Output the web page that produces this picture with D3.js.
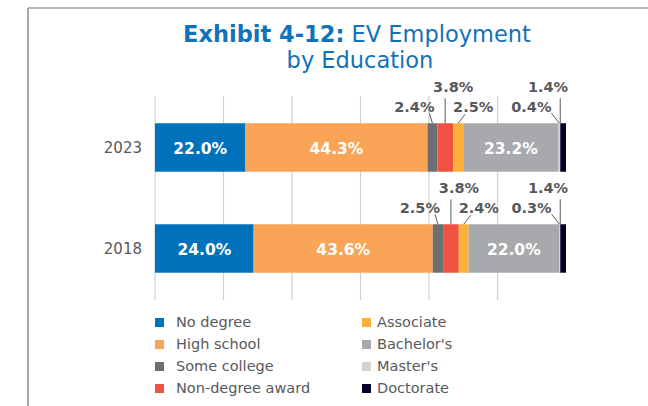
<html>
<head>
<title>EV Employment by Education</title>
<script type="text/javascript" src="https://cdn.jsdelivr.net/npm/d3@7"></script>
<style type="text/css">
body { margin:0; background:white; }
text { font-family: "DejaVu Sans", sans-serif; }
</style>
</head>
<body>
<script>

  var years = ["2023", "2018"];
  var categories = ["No degree", "High school", "Some college", "Non-degree award",
                    "Associate", "Bachelor's", "Master's", "Doctorate"];
  var values2023 = [22.0, 44.3, 2.4, 3.8, 2.5, 23.2, 0.4, 1.4];
  var values2018 = [24.0, 43.6, 2.5, 3.8, 2.4, 22.0, 0.3, 1.4];
  var colors = ["#0072bc", "#f9a457", "#6d6e71", "#ef5241", "#fbb13c", "#a7a9ac", "#d1d3d4", "#03002e"];
  var gridTicks = [0, 100/6, 200/6, 300/6, 400/6, 500/6];

  var valuesByYear = {"2023": values2023, "2018": values2018};
  var inside = [0, 1, 5];   // labelled in the bar
  // callout layout for the small segments (row 1 = upper, row 2 = lower)
  var callouts = {
    2: {row: 2, anchor: "end",    dx: 2,  lead: "diagL"},
    3: {row: 1, anchor: "middle", dx: 8,  lead: "vert"},
    4: {row: 2, anchor: "start",  dx: -5, lead: "diagR"},
    6: {row: 2, anchor: "end",    dx: -8, lead: "diagM"},
    7: {row: 1, anchor: "end",    dx: 5,  lead: "vertLeft"}
  };

  var grey = "#58595b";

  var svg = d3.select("body").append("svg").attr("width", 648).attr("height", 406);

  // frame
  svg.append("line").attr("x1", 28).attr("x2", 648).attr("y1", 8).attr("y2", 8)
    .attr("stroke", "#a0a0a0").attr("stroke-width", 1.5);
  svg.append("line").attr("x1", 28).attr("x2", 28).attr("y1", 8).attr("y2", 406)
    .attr("stroke", "#8a8a8a").attr("stroke-width", 1.5);

  // title
  var t1 = svg.append("text").attr("x", 357).attr("y", 42).attr("text-anchor", "middle")
    .attr("fill", "#1172b9").attr("font-size", 22.5);
  t1.append("tspan").attr("font-weight", "bold").text("Exhibit 4-12:");
  t1.append("tspan").text(" EV Employment");
  svg.append("text").attr("x", 360).attr("y", 68).attr("text-anchor", "middle")
    .attr("fill", "#1172b9").attr("font-size", 22.5).text("by Education");

  var x = d3.scaleLinear().domain([0, 100]).range([155, 566]);
  var y = d3.scaleBand().domain(years).range([97, 299]).paddingInner(0.52).paddingOuter(0.26);

  // gridlines
  svg.selectAll(".grid").data(gridTicks).enter().append("line").attr("class", "grid")
    .attr("x1", function(d){ return x(d); }).attr("x2", function(d){ return x(d); })
    .attr("y1", 96).attr("y2", 300).attr("stroke", "#cfcfcf").attr("stroke-width", 1.2);

  // year labels
  svg.selectAll(".year").data(years).enter().append("text").attr("class", "year")
    .attr("x", 142).attr("y", function(d){ return y(d) + y.bandwidth()/2 + 5; })
    .attr("text-anchor", "end").attr("font-size", 15).attr("fill", grey)
    .text(function(d){ return d; });

  years.forEach(function(yr){
    var vals = valuesByYear[yr];
    var segs = [], acc = 0;
    vals.forEach(function(v, i){
      segs.push({i: i, v: v, x0: acc, x1: acc + v});
      acc += v;
    });
    var top = y(yr);
    var g = svg.append("g");

    g.selectAll("rect").data(segs).enter().append("rect")
      .attr("x", function(d){ return x(d.x0); })
      .attr("width", function(d){ return x(d.x1) - x(d.x0); })
      .attr("y", top).attr("height", y.bandwidth())
      .attr("fill", function(d){ return colors[d.i]; });

    g.selectAll(".inlab").data(segs.filter(function(d){ return inside.indexOf(d.i) >= 0; }))
      .enter().append("text").attr("class", "inlab")
      .attr("x", function(d){ return (x(d.x0) + x(d.x1))/2; })
      .attr("y", top + y.bandwidth()/2 + 6)
      .attr("text-anchor", "middle").attr("font-size", 15.5).attr("font-weight", "bold")
      .attr("fill", "white").text(function(d){ return d.v.toFixed(1) + "%"; });

    var outs = segs.filter(function(d){ return callouts[d.i]; });
    outs.forEach(function(d){
      var c = callouts[d.i];
      var cx = (x(d.x0) + x(d.x1))/2;
      var base = c.row == 1 ? top - 31 : top - 11;
      g.append("text").attr("x", cx + c.dx).attr("y", base)
        .attr("text-anchor", c.anchor).attr("font-size", 14.5).attr("font-weight", "bold")
        .attr("fill", grey).text(d.v.toFixed(1) + "%");
      var l;
      if (c.lead == "vert") l = [cx, base + 6, cx, top];
      else if (c.lead == "vertLeft") l = [x(d.x0), base + 6, x(d.x0), top];
      else if (c.lead == "diagL") l = [cx - 3, base + 1, cx, top];
      else if (c.lead == "diagR") l = [cx + 7, base + 2, cx, top];
      else l = [cx - 8, base + 1, cx, top];
      g.append("line").attr("x1", l[0]).attr("y1", l[1]).attr("x2", l[2]).attr("y2", l[3])
        .attr("stroke", grey).attr("stroke-width", 1);
    });
  });

  // legend
  var leg = svg.selectAll(".leg").data(categories).enter().append("g").attr("class", "leg")
    .attr("transform", function(d, i){
      var col = Math.floor(i/4), row = i % 4;
      return "translate(" + (col == 0 ? 155 : 362) + "," + (327 + row*22) + ")";
    });
  leg.append("rect").attr("x", 0).attr("y", -9).attr("width", 9).attr("height", 9)
    .attr("fill", function(d, i){ return colors[i]; });
  leg.append("text").attr("x", function(d, i){ return i < 4 ? 21 : 15; }).attr("y", 0)
    .attr("font-size", 14.5).attr("fill", grey).text(function(d){ return d; });

</script>
</body>
</html>
